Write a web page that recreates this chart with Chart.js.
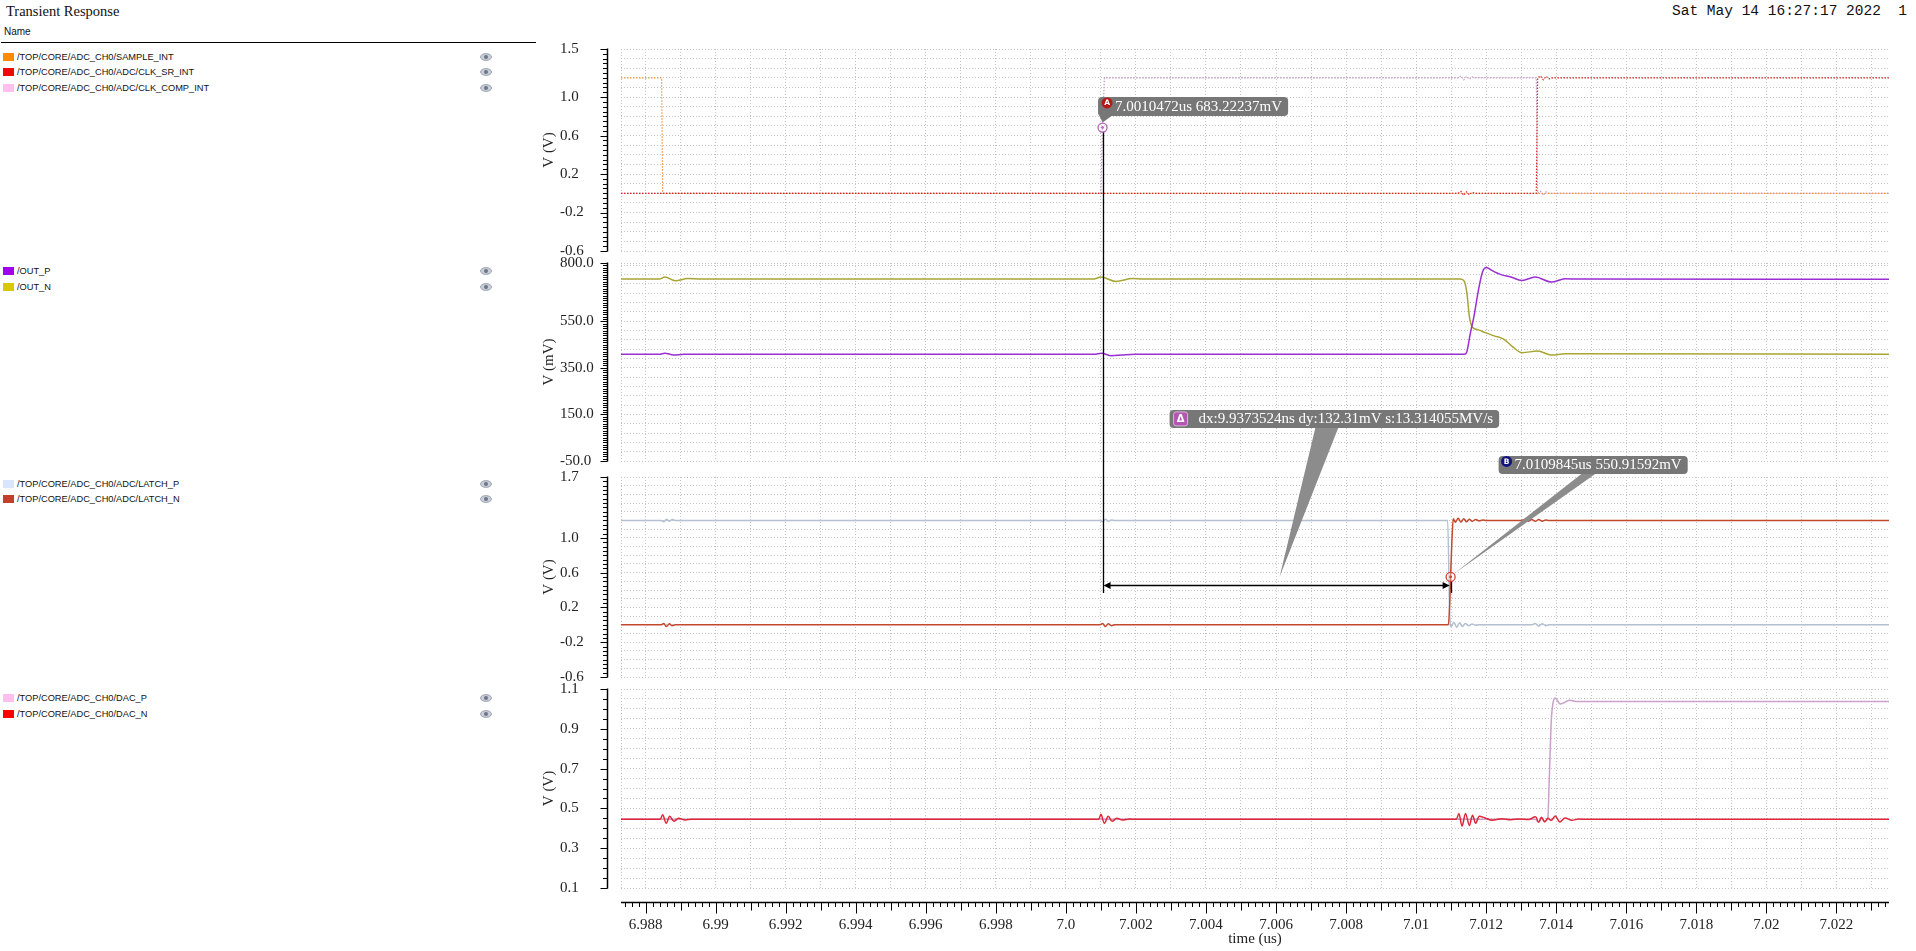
<!DOCTYPE html>
<html><head><meta charset="utf-8">
<script src="https://cdn.jsdelivr.net/npm/chart.js@4.4.1/dist/chart.umd.min.js"></script>
<style>
html,body{margin:0;padding:0;background:#fff;}
body{width:1916px;height:951px;overflow:hidden;position:relative;}
.t{position:absolute;white-space:pre;color:#111;}
#title{left:6px;top:3px;font:14.5px "Liberation Serif",serif;}
#date{right:9px;top:3px;font:14.5px "Liberation Mono",monospace;}
#namehdr{left:4px;top:26px;font:10px "Liberation Sans",sans-serif;}
#hline{position:absolute;left:1px;top:41.5px;width:535px;height:1.5px;background:#000;}
.leg{position:absolute;left:0;height:14px;width:500px;font:9.25px "Liberation Sans",sans-serif;color:#111;}
.sw{position:absolute;left:2.5px;top:3px;width:11px;height:8px;}
.lt{position:absolute;left:17px;top:0;line-height:14px;white-space:pre;}
.eye{position:absolute;left:480px;top:3px;}
canvas{position:absolute;}
</style></head><body>
<div id="title" class="t">Transient Response</div>
<div id="date" class="t">Sat May 14 16:27:17 2022  1</div>
<div id="namehdr" class="t">Name</div>
<div id="hline"></div>
<script>
// ---------------- DATA ----------------
const X_MIN = 6.9873, X_MAX = 7.0235;
const xTickValues = [6.988,6.990,6.992,6.994,6.996,6.998,7.000,7.002,7.004,7.006,7.008,7.010,7.012,7.014,7.016,7.018,7.020,7.022];
const xTickLabels = ['6.988','6.99','6.992','6.994','6.996','6.998','7.0','7.002','7.004','7.006','7.008','7.01','7.012','7.014','7.016','7.018','7.02','7.022'];
const xTitle = 'time (us)';

const p1TickValues = [1.5, 1.0, 0.6, 0.2, -0.2, -0.6];
const p1TickLabels = ['1.5','1.0','0.6','0.2','-0.2','-0.6'];
const p2TickValues = [800, 550, 350, 150, -50];
const p2TickLabels = ['800.0','550.0','350.0','150.0','-50.0'];
const p3TickValues = [1.7, 1.0, 0.6, 0.2, -0.2, -0.6];
const p3TickLabels = ['1.7','1.0','0.6','0.2','-0.2','-0.6'];
const p4TickValues = [1.1, 0.9, 0.7, 0.5, 0.3, 0.1];
const p4TickLabels = ['1.1','0.9','0.7','0.5','0.3','0.1'];

const legendP1 = ['/TOP/CORE/ADC_CH0/SAMPLE_INT','/TOP/CORE/ADC_CH0/ADC/CLK_SR_INT','/TOP/CORE/ADC_CH0/ADC/CLK_COMP_INT'];
const legendP2 = ['/OUT_P','/OUT_N'];
const legendP3 = ['/TOP/CORE/ADC_CH0/ADC/LATCH_P','/TOP/CORE/ADC_CH0/ADC/LATCH_N'];
const legendP4 = ['/TOP/CORE/ADC_CH0/DAC_P','/TOP/CORE/ADC_CH0/DAC_N'];

// panel 1 (V)
const sampleIntT = [6.9873, 6.98846, 6.98849, 7.0235];
const sampleIntV = [1.2, 1.2, 0, 0];
const clkSrT = [6.9873, 7.0112, 7.01128, 7.01136, 7.01144, 7.01152, 7.0116, 7.0117, 7.01343, 7.01347, 7.01355, 7.01363, 7.01371, 7.0138, 7.0139, 7.0235];
const clkSrV = [0, 0, 0.02, -0.02, 0.015, -0.015, 0.01, 0, 0, 1.2, 1.22, 1.18, 1.215, 1.19, 1.2, 1.2];
const clkCompT = [6.9873, 7.001, 7.0010472, 7.0011, 7.0112, 7.01128, 7.01136, 7.01144, 7.01152, 7.0116, 7.0117, 7.01343, 7.01347, 7.01355, 7.01363, 7.01371, 7.0138, 7.0235];
const clkCompV = [0, 0, 0.683, 1.2, 1.2, 1.22, 1.18, 1.215, 1.185, 1.21, 1.2, 1.2, 0, 0.02, -0.02, 0.015, 0, 0];

// panel 2 (mV)
const outPT = [6.9873, 6.9884, 6.98855, 6.9888, 6.9891, 6.9895, 7.0008, 7.00102, 7.0013, 7.0016, 7.002, 7.0113, 7.0114, 7.01145, 7.01155, 7.01165, 7.01178, 7.0119, 7.01201, 7.01216, 7.01242, 7.0127, 7.01302, 7.0134, 7.01386, 7.01425, 7.01465, 7.0235];
const outPV = [408, 408, 413, 405, 408, 408, 408, 413, 402, 405, 408, 408, 409, 420, 500, 570, 685, 764, 781, 768, 750, 740, 725, 740, 718, 732, 731, 730];
const outNT = [6.9873, 6.9884, 6.98855, 6.98885, 6.9892, 6.9896, 7.0008, 7.001, 7.00143, 7.0019, 7.0022, 7.01125, 7.01136, 7.01145, 7.01152, 7.01161, 7.01178, 7.01197, 7.01223, 7.0125, 7.01275, 7.01302, 7.01347, 7.01386, 7.01425, 7.0235];
const outNV = [731, 731, 740, 724, 733, 731, 731, 740, 721, 733, 731, 731, 725, 671, 570, 524, 513, 501, 487, 473, 441, 415, 422, 405, 410, 408];

// panel 3 (V)
const latchPT = [6.9873, 6.98845, 6.98852, 6.9886, 6.98868, 6.98876, 6.98885, 7.00098, 7.00105, 7.00113, 7.00121, 7.0013, 7.0014, 7.0109, 7.01096, 7.011, 7.01108, 7.01116, 7.01124, 7.01132, 7.0114, 7.0115, 7.0116, 7.0117, 7.0118, 7.0133, 7.0134, 7.0135, 7.0136, 7.0137, 7.0138, 7.0235];
const latchPV = [1.2, 1.2, 1.185, 1.215, 1.19, 1.21, 1.2, 1.2, 1.185, 1.215, 1.19, 1.205, 1.2, 1.2, 0.1, -0.02, 0.03, -0.03, 0.025, -0.02, 0.015, -0.01, 0.01, -0.005, 0, 0, 0.015, -0.015, 0.012, -0.01, 0, 0];
const latchNT = [6.9873, 6.98845, 6.98852, 6.9886, 6.98868, 6.98876, 6.98885, 7.00098, 7.00105, 7.00113, 7.00121, 7.0013, 7.0014, 7.01092, 7.01096, 7.0109845, 7.01102, 7.01106, 7.01112, 7.0112, 7.01128, 7.01136, 7.01144, 7.01152, 7.0116, 7.0117, 7.0118, 7.0119, 7.012, 7.013, 7.0131, 7.0132, 7.0133, 7.0134, 7.0135, 7.0136, 7.0137, 7.0138, 7.0235];
const latchNV = [0, 0, 0.015, -0.02, 0.012, -0.01, 0, 0, 0.015, -0.02, 0.012, -0.01, 0, 0, 0.25, 0.551, 0.95, 1.22, 1.18, 1.225, 1.18, 1.22, 1.185, 1.215, 1.19, 1.21, 1.195, 1.205, 1.2, 1.2, 1.21, 1.19, 1.212, 1.19, 1.21, 1.192, 1.205, 1.2, 1.2];

// panel 4 (V)
const dacPT = [6.9873, 7.0134, 7.0135, 7.01358, 7.01367, 7.01376, 7.0138, 7.01386, 7.01393, 7.01397, 7.01412, 7.01438, 7.0146, 7.0235];
const dacPV = [0.445, 0.445, 0.432, 0.452, 0.435, 0.45, 0.643, 0.945, 1.046, 1.055, 1.024, 1.043, 1.037, 1.037];
const dacNT = [6.9873, 6.98842, 6.98849, 6.98859, 6.98869, 6.98881, 6.98894, 6.98913, 6.98932, 7.00094, 7.001, 7.0011, 7.00121, 7.00132, 7.00145, 7.00162, 7.00181, 7.002, 7.01115, 7.01122, 7.01131, 7.01141, 7.01152, 7.01161, 7.0117, 7.0118, 7.01197, 7.01217, 7.01243, 7.0127, 7.01295, 7.01321, 7.01341, 7.0135, 7.01358, 7.01367, 7.01376, 7.01386, 7.01397, 7.0141, 7.01425, 7.01445, 7.01464, 7.0149, 7.0235];
const dacNV = [0.445, 0.445, 0.468, 0.425, 0.46, 0.435, 0.45, 0.442, 0.446, 0.445, 0.47, 0.425, 0.46, 0.435, 0.45, 0.442, 0.447, 0.445, 0.445, 0.475, 0.411, 0.475, 0.414, 0.466, 0.425, 0.46, 0.452, 0.44, 0.448, 0.443, 0.447, 0.444, 0.458, 0.43, 0.455, 0.432, 0.45, 0.44, 0.462, 0.432, 0.452, 0.44, 0.447, 0.445, 0.445];

// cursors
const markerA = {t: 7.0010472, v: 0.68322237, text: '7.0010472us 683.22237mV'};
const markerB = {t: 7.0109845, v: 0.55091592, text: '7.0109845us 550.91592mV'};
const deltaText = 'dx:9.9373524ns dy:132.31mV s:13.314055MV/s';

// ---------------- STYLE ----------------
const SERIF = '"Liberation Serif","Times New Roman",serif';
const GRID = '#c4c4c4';
const CANVAS_LEFT = 540, CANVAS_W = 1376, Y_AXIS_W = 81, PAD_R = 27;

function eyeSvg(){
  return '<svg width="12" height="8" viewBox="0 0 12 8"><ellipse cx="6" cy="4" rx="5.5" ry="3.4" fill="#c9ced8" stroke="#8f97a6" stroke-width="0.8"/><circle cx="6" cy="4" r="2" fill="#6d7587"/></svg>';
}
function addLegend(names, swatches, centers){
  names.forEach((n,i)=>{
    const d = document.createElement('div'); d.className='leg'; d.style.top=(centers[i]-7)+'px';
    d.innerHTML = '<div class="sw" style="background:'+swatches[i]+'"></div><div class="lt"></div><div class="eye">'+eyeSvg()+'</div>';
    d.querySelector('.lt').textContent = n;
    document.body.appendChild(d);
  });
}
addLegend(legendP1, ['#ff8a00','#ee0a0a','#ffc0ee'], [56.7, 72.3, 88.3]);
addLegend(legendP2, ['#a000ee','#d8c800'], [270.7, 286.7]);
addLegend(legendP3, ['#d8e5fa','#c0402a'], [483.7, 499.3]);
addLegend(legendP4, ['#ffc0ee','#ff0000'], [697.7, 713.7]);

function series(T, V){ return T.map((t,i)=>({x:t, y:V[i]})); }

function xGrid(){
  const arr=[X_MIN];
  for(let k=Math.ceil(X_MIN*1000);k<=Math.floor(X_MAX*1000);k++) arr.push(k/1000);
  return arr;
}

function yAxisPlugin(minV, maxV, step, labelVals, labels){
  return {id:'yAxisDecor', afterDraw(chart){
    const ctx=chart.ctx, ys=chart.scales.y, x0=chart.chartArea.left-13.5;
    ctx.save(); ctx.strokeStyle='#000'; ctx.lineWidth=1.5; ctx.setLineDash([]);
    ctx.beginPath(); ctx.moveTo(x0, ys.getPixelForValue(maxV)-0.5); ctx.lineTo(x0, ys.getPixelForValue(minV)+0.5); ctx.stroke();
    ctx.lineWidth=1;
    const n=Math.round((maxV-minV)/step);
    for(let k=0;k<=n;k++){
      const v=minV+k*step; const y=Math.round(ys.getPixelForValue(v))+0.5;
      const major=labelVals.some(l=>Math.abs(l-v)<step/10);
      ctx.beginPath(); ctx.moveTo(x0-(major?7:4.5), y); ctx.lineTo(x0, y); ctx.stroke();
    }
    ctx.fillStyle='#222'; ctx.font='15px '+SERIF; ctx.textAlign='left'; ctx.textBaseline='middle';
    labelVals.forEach((v,i)=>{ ctx.fillText(labels[i], chart.chartArea.left-61, ys.getPixelForValue(v)); });
    ctx.restore();
  }};
}

function makePanel(cfg){
  const cv=document.createElement('canvas');
  cv.width=CANVAS_W; cv.height=cfg.height;
  cv.style.cssText='left:'+CANVAS_LEFT+'px;top:'+cfg.top+'px;width:'+CANVAS_W+'px;height:'+cfg.height+'px;';
  document.body.appendChild(cv);
  const gridVals=[];
  const n=Math.round((cfg.max-cfg.min)/cfg.gridStep);
  for(let k=0;k<=n;k++){ const v=+(cfg.min+k*cfg.gridStep).toFixed(6); if(v<=cfg.max+1e-9) gridVals.push(v); }
  cfg.labelVals.forEach(v=>{ if(!gridVals.some(g=>Math.abs(g-v)<1e-6)) gridVals.push(v); });
  gridVals.sort((a,b)=>a-b);
  const chart=new Chart(cv,{
    type:'line',
    data:{datasets:cfg.datasets},
    options:{
      responsive:false, animation:false, devicePixelRatio:1, events:[],
      layout:{padding:{left:0,right:PAD_R,top:10,bottom:10}},
      plugins:{legend:{display:false},tooltip:{enabled:false}},
      elements:{point:{radius:0},line:{borderWidth:1.5}},
      scales:{
        x:{type:'linear',min:X_MIN,max:X_MAX,
           afterBuildTicks:s=>{s.ticks=xGrid().map(v=>({value:v}));},
           ticks:{display:false},grid:{color:GRID,lineWidth:1,drawTicks:false},border:{display:false,dash:[1,2]}},
        y:{type:'linear',min:cfg.min,max:cfg.max,
           afterBuildTicks:s=>{s.ticks=gridVals.map(v=>({value:v}));},
           afterFit:s=>{s.width=Y_AXIS_W;},
           ticks:{display:false},
           grid:{color:GRID,lineWidth:1,drawTicks:false},border:{display:false,dash:[1,2]},
           title:{display:true,text:cfg.title,color:'#222',font:{family:SERIF,size:15,lineHeight:1.2},padding:{top:0,bottom:0}}}
      }
    },
    plugins:[yAxisPlugin(cfg.min,cfg.max,cfg.tickStep,cfg.labelVals,cfg.labels)]
  });
  chart._pageLeft=CANVAS_LEFT; chart._pageTop=cfg.top;
  return chart;
}

const dotted={borderWidth:1.2,borderDash:[1.5,1.5],tension:0};
const smooth={borderWidth:1.5,cubicInterpolationMode:'monotone'};

const c1=makePanel({top:39,height:222,min:-0.6,max:1.5,gridStep:0.1,tickStep:0.05,labelVals:p1TickValues,labels:p1TickLabels,title:'V (V)',
  datasets:[
    Object.assign({data:series(sampleIntT,sampleIntV),borderColor:'#ee9440',order:1},dotted),
    Object.assign({data:series(clkSrT,clkSrV),borderColor:'#d42a2a',order:0},dotted),
    Object.assign({data:series(clkCompT,clkCompV),borderColor:'#c39ac2',order:2},dotted)
  ]});
const c2=makePanel({top:253,height:218,min:-50,max:800,gridStep:40,tickStep:10,labelVals:p2TickValues,labels:p2TickLabels,title:'V (mV)',
  datasets:[
    Object.assign({data:series(outPT,outPV),borderColor:'#9a2fd2',order:0},smooth),
    Object.assign({data:series(outNT,outNV),borderColor:'#a9a534',order:1},smooth)
  ]});
const c3=makePanel({top:467,height:220,min:-0.6,max:1.7,gridStep:0.1,tickStep:0.05,labelVals:p3TickValues,labels:p3TickLabels,title:'V (V)',
  datasets:[
    Object.assign({data:series(latchPT,latchPV),borderColor:'#b4c0d0',order:1},smooth),
    Object.assign({data:series(latchNT,latchNV),borderColor:'#c2482e',order:0},smooth)
  ]});
const c4=makePanel({top:679,height:219,min:0.1,max:1.1,gridStep:0.05,tickStep:0.05,labelVals:p4TickValues,labels:p4TickLabels,title:'V (V)',
  datasets:[
    Object.assign({data:series(dacPT,dacPV),borderColor:'#c9a2c9',order:1},smooth),
    Object.assign({data:series(dacNT,dacNV),borderColor:'#e0263a',order:0},smooth)
  ]});

// bottom x axis
(function(){
  const H=151, TOP=800;
  const cv=document.createElement('canvas'); cv.width=CANVAS_W; cv.height=H;
  cv.style.cssText='left:'+CANVAS_LEFT+'px;top:'+TOP+'px;width:'+CANVAS_W+'px;height:'+H+'px;';
  document.body.appendChild(cv);
  const xAxisPlugin={id:'xAxisDecor',afterDraw(chart){
    const ctx=chart.ctx, xs=chart.scales.x, y0=chart.chartArea.bottom+0.5;
    ctx.save(); ctx.strokeStyle='#000'; ctx.lineWidth=1.5;
    ctx.beginPath(); ctx.moveTo(chart.chartArea.left,y0); ctx.lineTo(chart.chartArea.right,y0); ctx.stroke();
    ctx.lineWidth=1;
    for(let k=Math.ceil(X_MIN*5000);k<=Math.floor(X_MAX*5000);k++){
      const x=Math.round(xs.getPixelForValue(k/5000))+0.5;
      const len=(k%10===0)?11:((k%5===0)?8:4.5);
      ctx.beginPath(); ctx.moveTo(x,y0); ctx.lineTo(x,y0+len); ctx.stroke();
    }
    ctx.restore();
  }};
  new Chart(cv,{type:'line',data:{datasets:[{data:[]}]},
    options:{responsive:false,animation:false,devicePixelRatio:1,events:[],
      layout:{padding:{left:Y_AXIS_W,right:PAD_R,top:0,bottom:4}},
      plugins:{legend:{display:false},tooltip:{enabled:false}},
      scales:{
        x:{type:'linear',min:X_MIN,max:X_MAX,
           afterBuildTicks:s=>{s.ticks=xTickValues.map(v=>({value:v}));},
           afterFit:s=>{s.height=45;},
           ticks:{autoSkip:false,maxRotation:0,padding:14,color:'#222',font:{family:SERIF,size:15},
             callback:(v,i)=>xTickLabels[i]},
           grid:{drawOnChartArea:false,drawTicks:false},border:{display:false},
           title:{display:true,text:xTitle,color:'#222',font:{family:SERIF,size:15,lineHeight:1.0},padding:{top:0,bottom:0}}},
        y:{display:false,min:0,max:1}
      }},
    plugins:[xAxisPlugin]});
})();

// ---------------- CURSOR OVERLAY ----------------
(function(){
  const ov=document.createElement('canvas'); ov.width=1916; ov.height=951;
  ov.style.cssText='left:0;top:0;width:1916px;height:951px;pointer-events:none;';
  document.body.appendChild(ov);
  const ctx=ov.getContext('2d');
  const px=(c,t)=>c._pageLeft+c.scales.x.getPixelForValue(t);
  const py=(c,v)=>c._pageTop+c.scales.y.getPixelForValue(v);
  const ax=px(c1,markerA.t), ay=py(c1,markerA.v);
  const bx=px(c3,markerB.t), by=py(c3,markerB.v);
  const arrowY=by+8.5, extY=by+16;
  const FONT='15px "Liberation Serif", serif';
  function rrect(x,y,w,h,r){ctx.beginPath();ctx.moveTo(x+r,y);ctx.lineTo(x+w-r,y);ctx.quadraticCurveTo(x+w,y,x+w,y+r);ctx.lineTo(x+w,y+h-r);ctx.quadraticCurveTo(x+w,y+h,x+w-r,y+h);ctx.lineTo(x+r,y+h);ctx.quadraticCurveTo(x,y+h,x,y+h-r);ctx.lineTo(x,y+r);ctx.quadraticCurveTo(x,y,x+r,y);ctx.closePath();}
  function tri(p){ctx.beginPath();ctx.moveTo(p[0][0],p[0][1]);ctx.lineTo(p[1][0],p[1][1]);ctx.lineTo(p[2][0],p[2][1]);ctx.closePath();ctx.fill();}

  ctx.strokeStyle='#000'; ctx.fillStyle='#000'; ctx.lineWidth=1.3;
  ctx.beginPath(); ctx.moveTo(Math.round(ax)+0.5, ay+4.5); ctx.lineTo(Math.round(ax)+0.5, extY); ctx.stroke();
  ctx.beginPath(); ctx.moveTo(Math.round(bx)+0.5, by+4.5); ctx.lineTo(Math.round(bx)+0.5, extY); ctx.stroke();
  ctx.lineWidth=1.5;
  ctx.beginPath(); ctx.moveTo(ax+6, arrowY); ctx.lineTo(bx-6, arrowY); ctx.stroke();
  tri([[ax+1,arrowY],[ax+8,arrowY-3.5],[ax+8,arrowY+3.5]]);
  tri([[bx-1,arrowY],[bx-8,arrowY-3.5],[bx-8,arrowY+3.5]]);

  ctx.font=FONT;
  const BOX='#777777', WEDGE='#8c8c8c';
  const mx=(ax+bx)/2+3;
  const dW=ctx.measureText(deltaText).width;
  const dBox={x:mx-110, y:by-167, w:29+dW+6, h:18};
  ctx.fillStyle=WEDGE; tri([[mx+36,dBox.y+dBox.h-1],[mx+59,dBox.y+dBox.h-1],[mx,by]]);
  ctx.fillStyle=BOX; rrect(dBox.x,dBox.y,dBox.w,dBox.h,4); ctx.fill();
  ctx.fillStyle='#b455b4'; rrect(dBox.x+4,dBox.y+2,14,14,2.5); ctx.fill();
  ctx.strokeStyle='#e8c8e8'; ctx.lineWidth=0.8; rrect(dBox.x+4,dBox.y+2,14,14,2.5); ctx.stroke();
  ctx.fillStyle='#fff'; ctx.font='bold 10px "DejaVu Sans", sans-serif'; ctx.textAlign='center'; ctx.textBaseline='middle';
  ctx.fillText('\u0394', dBox.x+11, dBox.y+9.5);
  ctx.font=FONT; ctx.textAlign='left';
  ctx.fillText(deltaText, dBox.x+29, dBox.y+dBox.h/2+0.5);

  const bW=ctx.measureText(markerB.text).width;
  const bBox={x:bx+48, y:by-121, w:16+bW+6, h:18};
  ctx.fillStyle=WEDGE; tri([[bx+132,bBox.y+bBox.h-1],[bx+146,bBox.y+bBox.h-1],[bx+3,by-3]]);
  ctx.fillStyle=BOX; rrect(bBox.x,bBox.y,bBox.w,bBox.h,4); ctx.fill();
  ctx.fillStyle='#14147e'; ctx.beginPath(); ctx.arc(bBox.x+8, bBox.y+5.5, 5.5, 0, Math.PI*2); ctx.fill();
  ctx.fillStyle='#fff'; ctx.font='bold 7.5px "DejaVu Sans", sans-serif'; ctx.textAlign='center';
  ctx.fillText('B', bBox.x+8, bBox.y+5.8);
  ctx.font=FONT; ctx.textAlign='left';
  ctx.fillText(markerB.text, bBox.x+16, bBox.y+bBox.h/2+0.5);

  const aW=ctx.measureText(markerA.text).width;
  const aBox={x:ax-4.5, y:ay-30.6, w:17+aW+6, h:19};
  ctx.fillStyle=BOX; rrect(aBox.x,aBox.y,aBox.w,aBox.h,4); ctx.fill();
  tri([[ax-4.5,aBox.y+aBox.h-3],[ax+9,aBox.y+aBox.h],[ax,ay-5]]);
  ctx.fillStyle='#b81818'; ctx.beginPath(); ctx.arc(aBox.x+9, aBox.y+6, 5.5, 0, Math.PI*2); ctx.fill();
  ctx.fillStyle='#fff'; ctx.font='bold 7.5px "DejaVu Sans", sans-serif'; ctx.textAlign='center';
  ctx.fillText('A', aBox.x+9, aBox.y+6.3);
  ctx.font=FONT; ctx.textAlign='left';
  ctx.fillText(markerA.text, aBox.x+17, aBox.y+aBox.h/2+0.5);

  function marker(x,y,col){
    ctx.strokeStyle=col; ctx.lineWidth=1.3; ctx.fillStyle='rgba(255,255,255,0.35)';
    ctx.beginPath(); ctx.arc(x,y,4.5,0,Math.PI*2); ctx.fill(); ctx.stroke();
    ctx.fillStyle=col; ctx.beginPath(); ctx.arc(x,y,1.4,0,Math.PI*2); ctx.fill();
  }
  marker(ax,ay,'#b65fb6');
  marker(bx,by,'#d0402a');
})();
</script>
</body></html>
